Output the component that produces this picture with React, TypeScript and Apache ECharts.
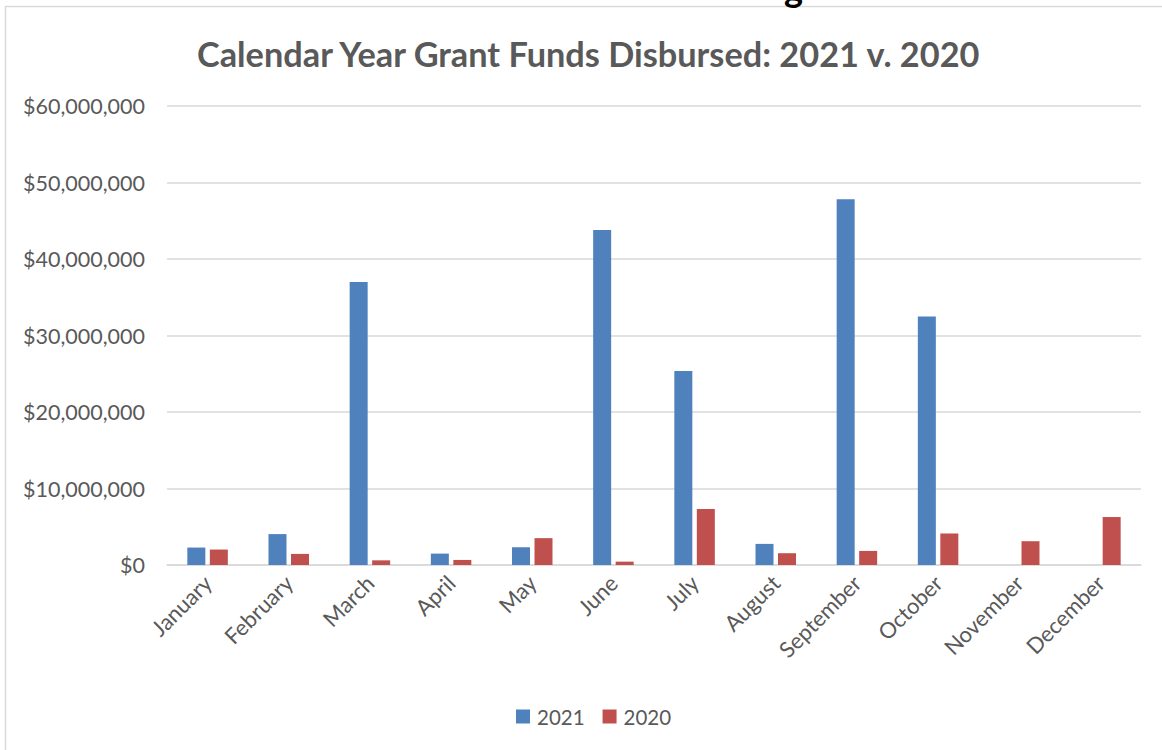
import React, { useEffect, useRef } from "react";
import * as echarts from "echarts";

const months = ["January", "February", "March", "April", "May", "June", "July", "August", "September", "October", "November", "December"];
const funds2021 = [2280000, 4040000, 37000000, 1490000, 2320000, 43800000, 25350000, 2760000, 47800000, 32500000, 0, 0];
const funds2020 = [2020000, 1450000, 610000, 660000, 3510000, 440000, 7320000, 1540000, 1840000, 4120000, 3110000, 6270000];
const seriesNames = ["2021", "2020"];
const titleText = "Calendar Year Grant Funds Disbursed: 2021 v. 2020";

const FONT = "Lato, 'Open Sans', sans-serif";
const GRAY = "#595959";

export default function App() {
  const ref = useRef<HTMLDivElement>(null);
  useEffect(() => {
    if (!ref.current) return;
    const chart = echarts.init(ref.current, undefined, { renderer: "svg" });
    chart.setOption({
      animation: false,
      backgroundColor: "#ffffff",
      title: {
        text: titleText,
        left: 192,
        top: 31,
        textStyle: { fontFamily: FONT, fontSize: 34.3, fontWeight: "bold", color: GRAY },
      },
      legend: {
        left: 511,
        top: 701,
        itemWidth: 14,
        itemHeight: 14,
        itemGap: 18,
        icon: "rect",
        textStyle: { fontFamily: FONT, fontSize: 20.5, color: GRAY, padding: [0, 0, 0, 2] },
        data: seriesNames,
      },
      grid: { left: 167, right: 21, top: 106, bottom: 185, containLabel: false },
      xAxis: {
        type: "category",
        data: months,
        axisLine: { lineStyle: { color: "#d9d9d9", width: 1.5 } },
        axisTick: { show: false },
        axisLabel: { rotate: 45, margin: 14, fontFamily: FONT, fontSize: 22, color: GRAY, interval: 0 },
      },
      yAxis: {
        type: "value",
        min: 0,
        max: 60000000,
        interval: 10000000,
        axisLine: { show: false },
        axisTick: { show: false },
        splitLine: { lineStyle: { color: "#d9d9d9", width: 1.5 } },
        axisLabel: {
          margin: 22,
          fontFamily: FONT,
          fontSize: 21.5,
          color: GRAY,
          formatter: (v: number) => "$" + v.toLocaleString("en-US"),
        },
      },
      series: [
        { name: seriesNames[0], type: "bar", data: funds2021, barWidth: 18, barGap: "25%", itemStyle: { color: "#4F81BD" } },
        { name: seriesNames[1], type: "bar", data: funds2020, barWidth: 18, barGap: "25%", itemStyle: { color: "#C0504D" } },
      ],
      graphic: [
        { type: "line", shape: { x1: 5.5, y1: 6, x2: 5.5, y2: 750 }, style: { stroke: "#d9d9d9", lineWidth: 1.5 } },
        { type: "line", shape: { x1: 5, y1: 6.5, x2: 1162, y2: 6.5 }, style: { stroke: "#d9d9d9", lineWidth: 1.5 } },
        {
          type: "text",
          x: 784,
          y: -30,
          style: { text: "g", fontFamily: FONT, fontSize: 36, fontWeight: "bold", fill: "#000000", verticalAlign: "top", align: "left" },
        },
      ],
    });
    return () => chart.dispose();
  }, []);
  return <div ref={ref} style={{ position: "fixed", left: 0, top: 0, width: 1162, height: 750 }} />;
}
